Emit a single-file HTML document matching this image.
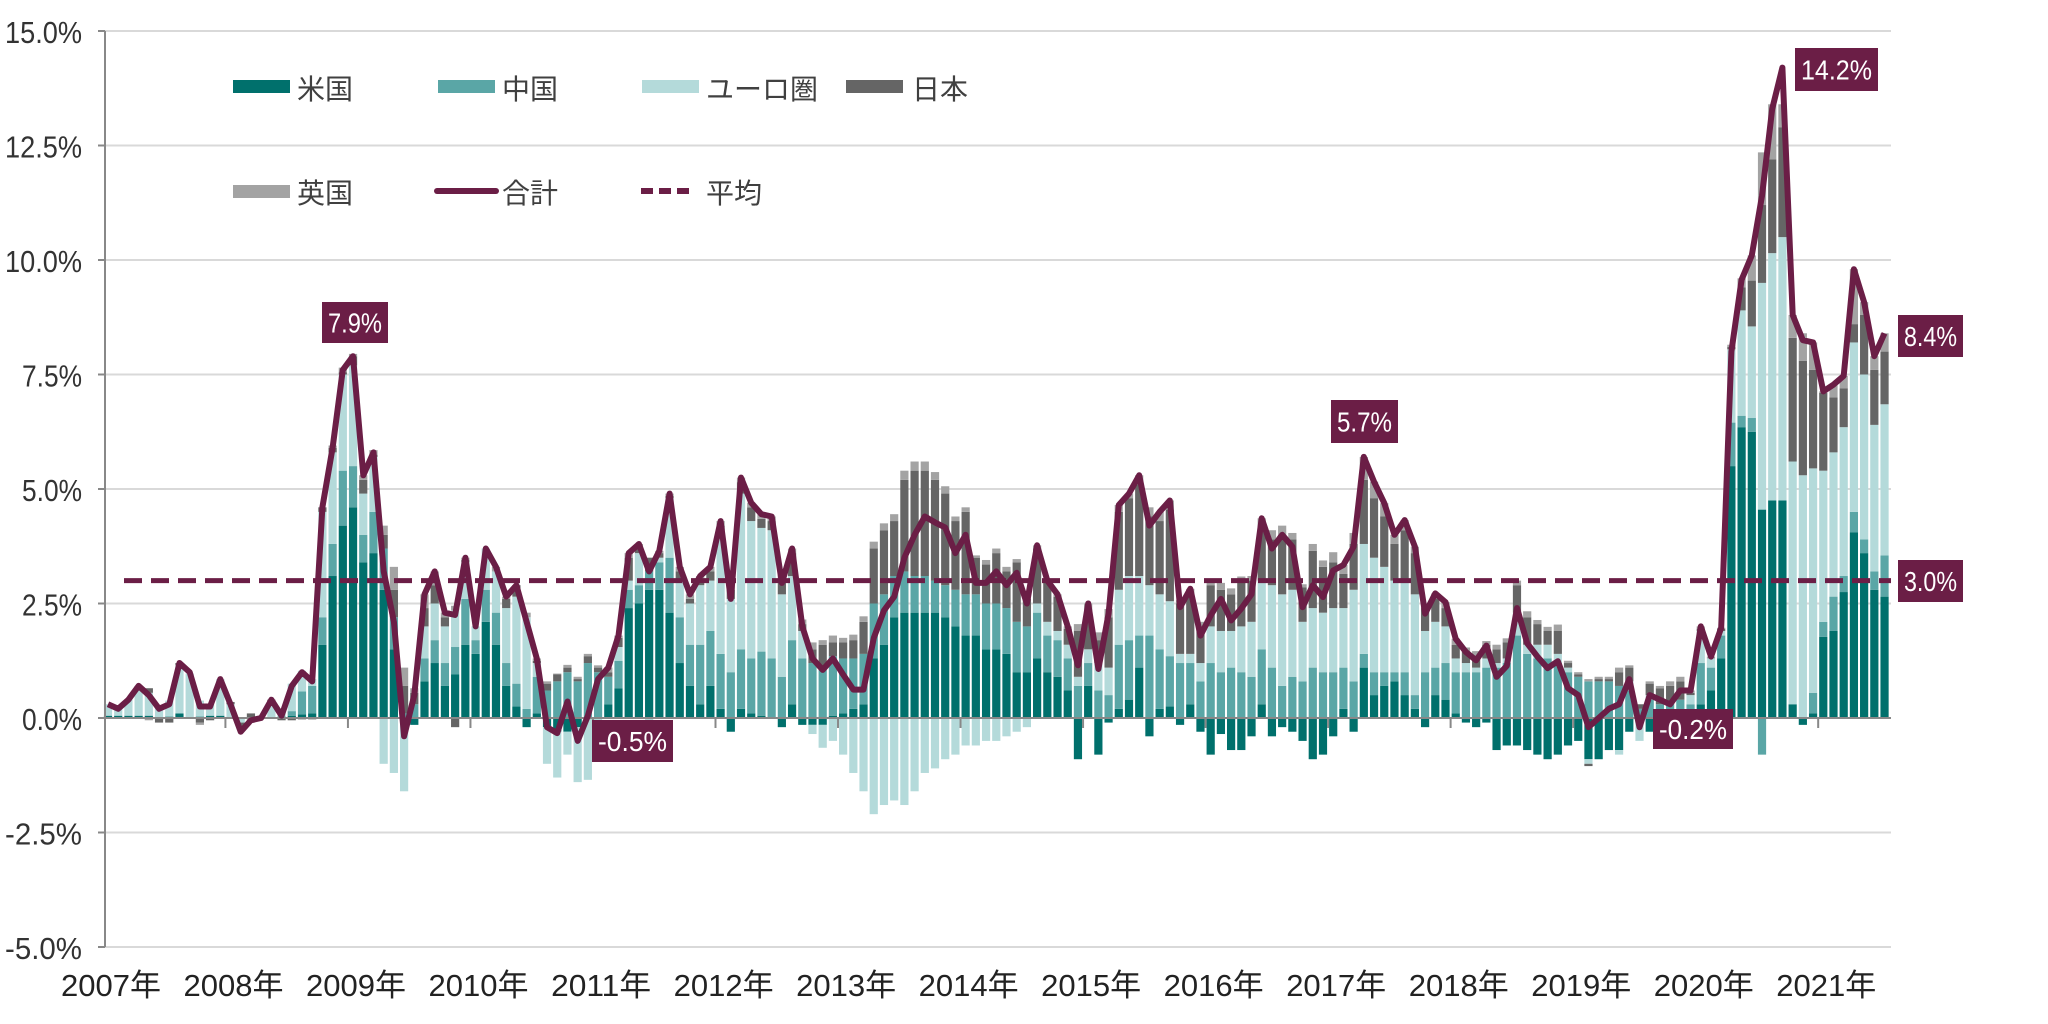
<!DOCTYPE html>
<html><head><meta charset="utf-8"><style>
html,body{margin:0;padding:0;background:#fff;}
svg{display:block;font-family:"Liberation Sans","Noto Sans CJK JP",sans-serif;}
</style></head><body>
<svg id="chart" width="2048" height="1024" viewBox="0 0 2048 1024" xmlns="http://www.w3.org/2000/svg">
<g id="grid"></g>
<g id="bars"></g>
<g id="axes"></g>
<g id="lines"></g>
<g id="labels"></g>
<g id="legend">
  <rect x="233" y="80" width="57" height="13" fill="#00706c"/>
  <text x="297" y="99" font-size="28" fill="#404040">米国</text>
  <rect x="438" y="80" width="57" height="13" fill="#5aa6a6"/>
  <text x="502" y="99" font-size="28" fill="#404040">中国</text>
  <rect x="642" y="80" width="57" height="13" fill="#b4dada"/>
  <text x="706" y="99" font-size="28" fill="#404040">ユーロ圏</text>
  <rect x="846" y="80" width="57" height="13" fill="#656565"/>
  <text x="912" y="99" font-size="28" fill="#404040">日本</text>
  <rect x="233" y="185" width="57" height="13" fill="#a3a3a3"/>
  <text x="297" y="203" font-size="28" fill="#404040">英国</text>
  <line x1="437" y1="191" x2="496" y2="191" stroke="#6b1e46" stroke-width="6" stroke-linecap="round"/>
  <text x="502" y="203" font-size="28" fill="#404040">合計</text>
  <line x1="641" y1="191" x2="695" y2="191" stroke="#6b1e46" stroke-width="6" stroke-dasharray="12,6"/>
  <text x="706" y="203" font-size="28" fill="#404040">平均</text>
</g>
</svg>
<script>
const us = [0.05,0.05,0.05,0.05,0.05,0.02,0.03,0.1,0.02,0.03,0.05,0.05,
0,0,0,0.02,0.02,0.03,0.05,0.08,0.1,1.6,3.1,4.2,
4.6,3.4,3.6,2.8,1.5,-0.1,-0.15,0.8,1.2,0.7,0.95,1.6,
1.4,2.1,1.6,0.7,0.25,-0.2,0.1,-0.2,-0.3,-0.3,-0.2,
0,0,0.3,0.65,2.4,2.5,2.8,2.8,2.3,1.2,0.7,0.3,
0.7,0.2,-0.3,0.2,0.1,0.05,0.0,-0.2,0.3,-0.15,-0.15,-0.15,
0.05,0.1,0.2,0.3,1.3,1.6,2.2,2.3,2.3,2.3,2.3,2.2,
2.0,1.8,1.8,1.5,1.5,1.4,1.0,1.0,1.3,1.0,0.9,0.6,
-0.9,0.7,-0.8,-0.1,0.2,0.4,1.1,-0.4,0.2,0.25,-0.15,0.3,
-0.3,-0.8,-0.35,-0.7,-0.7,-0.4,0.3,-0.4,-0.2,-0.3,-0.5,-0.9,
-0.8,-0.4,0.2,-0.3,1.1,0.5,0.7,0.8,0.5,0.2,-0.2,0.5,
0.4,0.1,-0.1,-0.2,-0.1,-0.7,-0.6,-0.6,-0.7,-0.8,-0.9,-0.8,
-0.6,-0.5,-0.9,-0.9,-0.7,-0.7,-0.3,-0.1,-0.3,-0.2,-0.2,0.1,
0.1,0.3,0.6,1.3,5.5,6.35,6.25,4.55,4.75,4.75,0.3,-0.15,
0.1,1.77,1.9,2.75,4.05,3.6,2.8,2.65];
const china = [0,0,0,0,0,0,0,0,0,0,0,0,
0,0,0,0,0,0,0.1,0.5,0.6,0.6,0.7,1.2,
0.9,0.6,0.9,0.9,0.7,0.1,0.3,0.5,0.5,0.5,0.6,1.0,
0.3,0.7,0.7,0.5,0.5,0.2,0.8,0.6,0.8,1.0,0.8,
1.2,1.0,0.6,0.6,0.4,0.4,0.4,0.6,1.2,1.0,0.9,1.3,
1.2,1.2,1.0,1.3,1.2,1.4,1.3,0.9,1.4,1.3,1.2,1.1,
1.3,1.2,1.1,1.1,1.2,1.1,0.9,0.9,0.8,0.8,0.7,0.7,
0.8,0.9,0.9,1.0,1.0,1.0,1.1,1.0,1.0,0.8,0.8,0.7,
0.7,0.5,0.6,0.5,1.4,1.3,0.7,1.8,1.3,1.1,1.2,0.9,
0.8,1.2,1.0,1.1,1.0,0.9,1.2,1.1,0.7,0.9,0.8,1.1,
1.0,1.0,0.9,0.8,0.3,0.5,0.3,0.2,0.5,0.3,1.0,0.6,
0.8,0.9,1.0,1.0,1.1,1.1,1.2,1.8,1.4,1.3,1.3,1.2,
1.0,0.9,0.8,0.8,0.8,0.7,0.6,0.2,0.4,0.3,0.3,0.3,
0.2,0.9,0.5,0.5,0.95,0.25,0.3,-0.8,0,0,0,0,
0.45,0.33,0.75,0.35,0.45,0.3,0.4,0.9];
const euro = [0.25,0.15,0.35,0.55,0.5,0.25,0.35,1.05,0.95,0.35,0.25,0.8,
0.3,-0.1,0,0,0.35,0.1,0.6,0.45,0.15,2.3,2.0,2.1,
2.2,0.9,1.2,-1.0,-1.2,-1.5,0.0,0.7,0.8,0.8,0.8,0.8,
0.3,0.9,0.9,1.2,1.9,2.0,0.3,-0.8,-1.0,-0.5,-1.2,
-1.35,-0.3,0.0,0.3,0.2,0.7,-0.3,0.1,1.3,0.8,0.9,1.3,
1.1,2.6,1.6,3.4,3.0,2.7,2.8,1.8,1.4,0.6,-0.2,-0.5,
-0.5,-0.8,-1.2,-1.6,-2.1,-1.9,-1.8,-1.9,-1.6,-1.2,-1.1,-0.9,
-0.8,-0.6,-0.6,-0.5,-0.5,-0.4,-0.3,-0.2,0.2,0.3,0.2,0.3,
0.2,0.3,0.6,0.6,1.2,1.4,1.3,1.1,1.2,1.2,0.2,0.2,
0.4,0.8,0.9,0.8,1.0,1.2,1.5,1.8,2.0,1.9,1.3,1.3,
1.3,1.4,1.3,2.0,2.4,2.5,2.3,2.0,2.0,2.2,0.9,1.0,
0.8,0.3,0.2,0.1,0.2,0.1,0.1,0.5,0.2,0.3,0.3,0.2,
0.1,0.0,-0.1,0.0,0.0,-0.1,0.2,-0.4,0.1,-0.1,-0.3,-0.3,
0.2,0.7,0.2,0.1,1.6,2.3,2.0,4.95,5.4,5.75,5.3,5.3,
4.9,3.3,3.15,3.25,3.7,3.6,3.2,3.3];
const japan = [0,0,0,0.1,0.1,-0.1,-0.1,0.05,0,-0.1,-0.05,0,
0.05,-0.1,0.1,0,0.03,-0.05,-0.05,-0.03,-0.03,0.1,0.1,0.05,
0.2,0.3,0.05,0.3,0.6,0.6,0.25,0.4,0.4,0.2,-0.2,0.05,
0,0,0,0.2,0.25,0,0.05,0.15,0.15,0.1,0.05,
0.15,0.1,0.1,0.2,0.5,0.15,0.3,0.1,0.05,0.2,0.1,0.15,
0.2,0.2,0.2,0.25,0.3,0.2,0.2,0.3,0.5,0.15,0.3,0.5,
0.3,0.35,0.4,0.7,1.2,1.4,1.2,2.0,2.3,2.3,2.2,2.0,
1.5,1.8,0.8,0.85,1.1,0.8,1.3,0.6,1.2,0.85,0.75,0.35,
1.0,0.8,0.5,1.1,1.7,1.7,2.0,1.5,1.6,2.0,1.1,1.3,
0.8,0.9,0.9,0.8,1.0,0.9,1.2,1.0,1.3,1.1,0.75,1.25,
1.0,1.0,0.75,1.0,1.4,1.3,1.1,0.8,1.1,0.9,0.5,0.5,
0.4,0.3,0.25,0.25,0.3,0.3,0.35,0.6,0.6,0.45,0.3,0.5,
0.1,0.05,-0.05,0.05,0.05,0.3,0.3,0.1,0.25,0.35,0.4,0.4,
0.05,0.05,0.0,0.05,0.05,0.5,1.0,1.7,2.05,2.4,2.7,2.5,
2.15,1.7,1.2,0.85,0.4,1.3,1.2,1.15];
const uk = [0,0,0,0,-0.05,0,0,0,0,-0.05,0,0,
0,-0.05,-0.1,0,0,0,0,0,0,0,0.05,0.1,
0.05,0.1,0.1,0.2,0.5,0.4,0.1,0.3,0.3,0.1,0.1,0.05,
0,0,0.1,0.05,0,0.1,0.05,0.05,0.02,0.06,0.05,
0.05,0.05,0.1,0.05,0.1,0.05,0.0,0.05,0.05,0.1,0.1,0.05,
0.1,0.1,0.1,0.1,0.1,0.1,0.1,0.15,0.1,0.1,0.15,0.1,
0.15,0.1,0.12,0.12,0.15,0.15,0.15,0.2,0.2,0.2,0.17,0.16,
0.1,0.1,0.05,0.1,0.1,0.1,0.07,0.1,0.07,0.05,0.05,0.05,
0.15,0.2,0.17,0.18,0.15,0.1,0.2,0.2,0.2,0.2,0.07,0.12,
0.1,0.14,0.15,0.13,0.09,0.1,0.16,0.2,0.2,0.14,0.07,0.15,
0.14,0.22,0.19,0.24,0.5,0.36,0.29,0.2,0.22,0.14,0.08,0.12,
0.13,0.13,0.09,0.11,0.08,0.1,0.09,0.1,0.13,0.09,0.09,0.14,
0.05,0.05,0.05,0.05,0.05,0.1,0.05,0.0,0.05,0.05,0.1,0.1,
0.05,0.05,0.04,0.02,0.05,0.2,0.55,1.15,1.2,0.5,0.5,0.6,
0.6,0.03,0.28,0.27,1.2,0.28,0.3,0.4];
const total = [0.3,0.2,0.4,0.7,0.5,0.2,0.3,1.2,1.0,0.25,0.25,0.85,
0.3,-0.3,-0.05,0.0,0.4,0.05,0.7,1.0,0.8,4.6,5.9,7.6,
7.9,5.3,5.8,3.2,2.1,-0.4,0.5,2.7,3.2,2.3,2.25,3.5,
2.0,3.7,3.3,2.65,2.9,2.1,1.3,-0.2,-0.33,0.36,-0.5,
0.05,0.85,1.1,1.8,3.6,3.8,3.2,3.65,4.9,3.3,2.7,3.1,
3.3,4.3,2.6,5.25,4.7,4.45,4.4,2.95,3.7,2.0,1.3,1.05,
1.3,0.95,0.62,0.62,1.75,2.35,2.65,3.5,4.0,4.4,4.27,4.16,
3.6,4.0,2.95,2.95,3.2,2.9,3.17,2.5,3.77,3.0,2.7,2.0,
1.15,2.5,1.07,2.28,4.65,4.9,5.3,4.2,4.5,4.75,2.42,2.82,
1.8,2.24,2.6,2.13,2.39,2.7,4.36,3.7,4.0,3.74,2.42,2.9,
2.64,3.22,3.34,3.74,5.7,5.16,4.69,4.0,4.32,3.74,2.28,2.72,
2.53,1.73,1.44,1.26,1.58,0.9,1.14,2.4,1.63,1.34,1.09,1.24,
0.65,0.5,-0.2,0,0.2,0.3,0.85,-0.2,0.5,0.4,0.3,0.6,
0.6,2.0,1.34,1.97,8.0,9.57,10.1,11.4,13.3,14.2,8.8,8.25,
8.2,7.13,7.28,7.47,9.8,9.08,7.9,8.4];
const average = 3.0;
const yTicks = [15, 12.5, 10, 7.5, 5, 2.5, 0, -2.5, -5];
const yTickLabels = ["15.0%","12.5%","10.0%","7.5%","5.0%","2.5%","0.0%","-2.5%","-5.0%"];
const years = ["2007年","2008年","2009年","2010年","2011年","2012年","2013年","2014年","2015年","2016年","2017年","2018年","2019年","2020年","2021年"];
const callouts = [
  {i:24, text:"7.9%", x:322, y:302, w:66, h:41, name:"label-2009-peak"},
  {i:164, text:"14.2%", x:1795, y:48, w:83, h:43, name:"label-2020-peak"},
  {i:174, text:"8.4%", x:1898, y:315, w:65, h:42, name:"label-latest"},
  {i:122, text:"5.7%", x:1331, y:400, w:67, h:43, name:"label-2017-peak"},
  {i:46, text:"-0.5%", x:592, y:720, w:81, h:42, name:"label-2010-min"},
  {i:145, text:"-0.2%", x:1653, y:709, w:80, h:40, name:"label-2019-min"}
];

const NS = "http://www.w3.org/2000/svg";
const X0 = 108, STEP = 10.21, BW = 8.2;
const LEFT = 105, RIGHT = 1891;
function yScale(v){ return 718 - v * 45.8; }
function xScale(i){ return X0 + i * STEP; }
function mk(tag, attrs, parent){
  const el = document.createElementNS(NS, tag);
  for (const k in attrs) el.setAttribute(k, attrs[k]);
  parent.appendChild(el);
  return el;
}
const grid = document.getElementById('grid');
const axes = document.getElementById('axes');
const barsG = document.getElementById('bars');
const linesG = document.getElementById('lines');
const labelsG = document.getElementById('labels');

yTicks.forEach((v, k) => {
  const y = yScale(v);
  if (v !== 0) {
    const gl = mk('line', {x1:LEFT, x2:RIGHT, y1:y, y2:y, stroke:'#d9d9d9', 'stroke-width':2}, grid);
    
    
  }
  const tk = mk('line', {x1:98, x2:LEFT, y1:y, y2:y, stroke:'#888', 'stroke-width':2}, axes);
  
  
  const lab = yTickLabels[k];
  const t = mk('text', {x:82, y:y + 12, 'text-anchor':'end', 'font-size':31, fill:'#333',
    textLength: lab.length === 5 ? 77 : 60, lengthAdjust:'spacingAndGlyphs'}, axes);
  t.textContent = lab;
  
  
});

const colors = ['#00706c','#5aa6a6','#b4dada','#656565','#a3a3a3'];
const series = [us, china, euro, japan, uk];
const snames = ['us','china','euro','japan','uk'];
for (let i = 0; i < total.length; i++) {
  let pos = 0, neg = 0;
  const cx = xScale(i);
  series.forEach((s, k) => {
    const v = s[i];
    if (!v) return;
    let y1, y2;
    if (v > 0) { y1 = yScale(pos + v); y2 = yScale(pos); pos += v; }
    else { y1 = yScale(neg); y2 = yScale(neg + v); neg += v; }
    const r = mk('rect', {x:cx - BW/2, y:y1, width:BW, height:Math.max(0.5, y2 - y1), fill:colors[k]}, barsG);
    
    
  });
}

const axisY = mk('line', {x1:LEFT, x2:LEFT, y1:yScale(15), y2:yScale(-5), stroke:'#888', 'stroke-width':2}, axes);


const axisX = mk('line', {x1:LEFT, x2:RIGHT, y1:yScale(0), y2:yScale(0), stroke:'#888', 'stroke-width':2}, axes);


const gb = mk('line', {x1:LEFT, x2:RIGHT, y1:yScale(-5), y2:yScale(-5), stroke:'#d9d9d9', 'stroke-width':2}, grid);



years.forEach((yr, k) => {
  const cx = xScale(k * 12) + 3;
  const t = mk('text', {x:cx, y:996, 'text-anchor':'middle', 'font-size':31, fill:'#222',
    textLength:100, lengthAdjust:'spacingAndGlyphs'}, axes);
  t.textContent = yr;
  
  
  if (k > 0) {
    const tk = mk('line', {x1:xScale(k*12) - STEP/2, x2:xScale(k*12) - STEP/2, y1:yScale(0), y2:yScale(0) + 10, stroke:'#888', 'stroke-width':2}, axes);
    
    
  }
});

const avg = mk('line', {x1:124, x2:RIGHT, y1:yScale(average), y2:yScale(average), stroke:'#6b1e46', 'stroke-width':5, 'stroke-dasharray':'18,9'}, linesG);



let d = '';
total.forEach((v, i) => { d += (i ? 'L' : 'M') + xScale(i).toFixed(1) + ',' + yScale(v).toFixed(1); });
const tl = mk('path', {d:d, fill:'none', stroke:'#6b1e46', 'stroke-width':6, 'stroke-linejoin':'round'}, linesG);



function box(c, txt, name){
  const g = mk('g', {}, labelsG);
  
  
  mk('rect', {x:c.x, y:c.y, width:c.w, height:c.h, fill:'#6b1e46'}, g);
  const t = mk('text', {x:c.x + c.w/2, y:c.y + c.h/2 + 10, 'text-anchor':'middle', 'font-size':28, fill:'#fff',
    textLength:c.w - 12, lengthAdjust:'spacingAndGlyphs'}, g);
  t.textContent = txt;
}
callouts.forEach(c => box(c, c.text, c.name));
box({x:1898, y:560, w:65, h:42}, average.toFixed(1) + '%', 'label-average');
</script>
</body></html>
